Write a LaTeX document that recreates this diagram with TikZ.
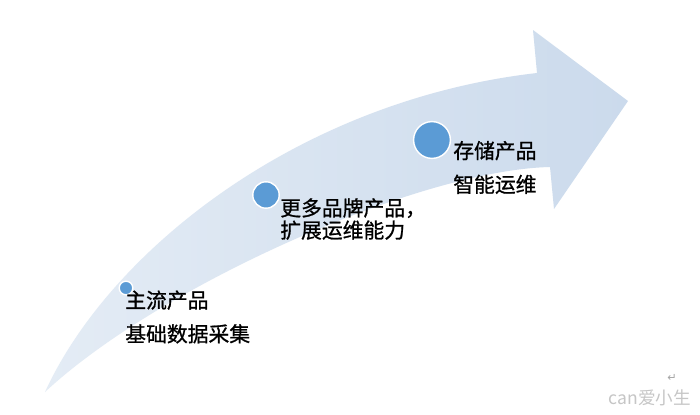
\documentclass[tikz,border=0pt]{standalone}
\usepackage{fontspec}
\newfontfamily\cjk{Noto Sans CJK SC}[FakeBold=0.9]
\newfontfamily\cjkplain{Noto Sans CJK SC}
\newfontfamily\symfont{DejaVu Sans}
\usetikzlibrary{positioning}

\definecolor{arrowlight}{RGB}{228,236,245}
\definecolor{arrowdark}{RGB}{203,218,236}
\definecolor{dotblue}{RGB}{91,155,213}

\begin{document}
\begin{tikzpicture}[
  x=0.025cm, y=-0.025cm,
  font=\cjk\fontsize{14.8}{24}\selectfont,
  dot/.style={
    circle, fill=dotblue, draw=white,
    line width=1pt, inner sep=0pt
  },
  stage/.style={
    align=left, inner sep=0pt,
    anchor=west
  }
]

\fill[white] (0,0) rectangle (700,415);
\useasboundingbox (0,0) rectangle (700,415);

% the rising arrow
\shade[left color=arrowlight, right color=arrowdark]
  (45,392) .. controls (110,250) and (300,100) .. (537,73)
  -- (533,30) -- (628,101) -- (554,209) -- (550,167)
  .. controls (420,170) and (160,285) .. cycle;

\node[dot, minimum size=0.34cm] (c1) at (126,288) {};
\node[dot, minimum size=0.66cm] (c2) at (266,195) {};
\node[dot, minimum size=0.92cm] (c3) at (432,140) {};

\node[stage] (t1) at (125,317) {主流产品\\基础数据采集};
\node[stage, font=\cjk\fontsize{14.8}{15.8}\selectfont] (t2) at (280,219)
  {更多品牌产品，\\扩展运维能力};
\node[stage] (t3) at (453,167.5) {存储产品\\智能运维};

% watermark
\node[gray!45, font=\cjkplain\fontsize{12.5}{12.5}\selectfont, anchor=east] (mark) at (696,398) {can爱小生};
\node[gray!70, font=\symfont\fontsize{8}{8}\selectfont] (ret) at (672,378) {↵};

\end{tikzpicture}
\end{document}
